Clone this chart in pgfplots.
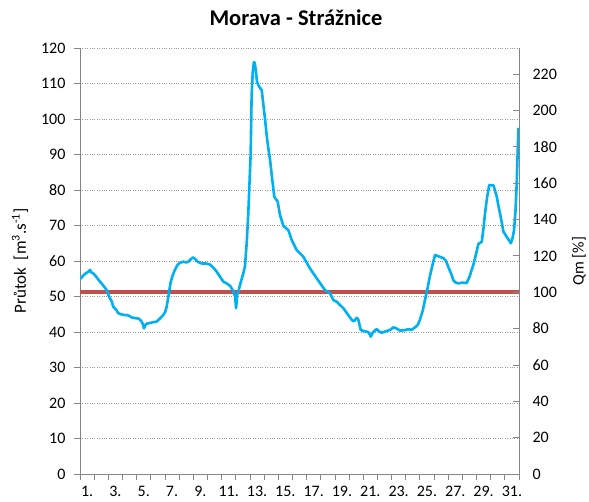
\documentclass[border=0pt]{standalone}
\usepackage{fontspec}
\setmainfont{Carlito}
\usepackage{pgfplots}
\pgfplotsset{compat=1.18}
\definecolor{qblue}{RGB}{0,176,240}
\definecolor{qred}{RGB}{192,80,77}
\definecolor{axgray}{RGB}{134,134,134}
\definecolor{gridgray}{RGB}{150,150,150}

\begin{document}
\begin{tikzpicture}[x=1pt,y=1pt]
\pgfplotsset{
  base/.style={
    scale only axis, width=439pt, height=426pt, at={(0,0)}, anchor=south west,
    xmin=0.5, xmax=31.5, clip=false,
    tick label style={font=\fontsize{16}{18}\selectfont, /pgf/number format/assume math mode=true},
    axis line style={axgray, line width=0.8pt},
    every tick/.style={axgray, line width=0.8pt},
    major tick length=6pt,
  }
}
\begin{axis}[base,
  axis x line*=bottom, axis y line*=left,
  tick align=outside,
  ymin=0, ymax=120, ytick={0,10,...,120},
  yticklabel style={xshift=-5pt},
  ymajorgrids, grid style={gridgray, dotted, line width=0.9pt},
  xtick={0.5,1.5,...,31.5}, xticklabels={},
  extra x ticks={1,3,...,31},
  extra x tick labels={1.,3.,5.,7.,9.,11.,13.,15.,17.,19.,21.,23.,25.,27.,29.,31.},
  extra x tick style={major tick length=0pt, xmajorgrids=false, ymajorgrids=false, tick label style={yshift=-9pt}},
]
\addplot[qred, line width=3.5pt] coordinates {(0.5,51.2) (31.5,51.2)};
\addplot[qblue, line width=2.6pt, line join=round] coordinates {
(0.55,55.0) (0.7,55.8) (0.9,56.5) (1.1,57.0) (1.21,57.5) (1.3,56.8) (1.44,56.5)
(1.6,55.8) (1.75,55.0) (1.91,54.2) (2.1,53.3) (2.25,52.5) (2.39,51.8) (2.55,50.0)
(2.74,48.6) (2.85,47.1) (3.05,46.3) (3.2,45.3) (3.4,45.0) (3.6,44.8) (3.8,44.8)
(4.0,44.5) (4.15,44.1) (4.4,43.9) (4.62,43.8) (4.75,43.4) (4.86,42.9) (4.95,42.0)
(5.02,41.0) (5.12,42.0) (5.25,42.4) (5.5,42.6) (5.7,42.8) (5.9,42.9) (6.15,43.8)
(6.38,44.8) (6.5,45.5) (6.62,47.1) (6.74,50.0) (6.9,54.0) (7.05,56.0) (7.2,57.5)
(7.4,59.0) (7.56,59.5) (7.8,59.8) (8.0,59.6) (8.15,59.8) (8.3,60.4) (8.46,61.0)
(8.6,60.7) (8.8,59.8) (9.1,59.3) (9.4,59.3) (9.68,59.0) (9.9,58.2) (10.15,57.0)
(10.4,55.5) (10.62,54.2) (10.85,53.7) (11.1,53.0) (11.25,52.0) (11.33,51.4)
(11.45,50.0) (11.52,46.7) (11.6,50.5) (11.68,51.4) (11.85,54.0) (12.03,56.5)
(12.15,58.5) (12.27,65.0) (12.38,73.0) (12.47,82.0) (12.55,89.9) (12.62,106.8)
(12.7,113.3) (12.78,116.0) (12.84,115.8) (12.92,113.5) (13.0,110.5) (13.09,109.6)
(13.2,108.8) (13.33,108.2) (13.42,105.0) (13.56,100.2) (13.68,95.5) (13.8,91.7)
(13.92,88.5) (14.08,82.8) (14.22,78.1) (14.46,76.7) (14.62,73.0) (14.86,69.9)
(15.21,68.7) (15.45,65.9) (15.8,63.1) (16.27,61.2) (16.74,57.9) (17.22,55.1)
(17.8,51.8) (18.16,50.9) (18.39,49.0) (18.63,48.5) (19.1,46.7) (19.4,45.0)
(19.69,43.4) (19.85,43.0) (20.04,44.0) (20.15,43.5) (20.32,40.6) (20.5,40.3)
(20.75,40.1) (20.9,39.8) (21.03,38.7) (21.2,40.0) (21.45,40.8) (21.6,40.2)
(21.8,39.8) (22.1,40.2) (22.4,40.6) (22.63,41.3) (22.85,41.0) (23.1,40.4)
(23.4,40.5) (23.69,40.8) (23.9,40.6) (24.16,41.3) (24.35,42.0) (24.5,43.4)
(24.7,46.0) (24.86,49.0) (25.05,52.5) (25.2,55.6) (25.4,59.0) (25.57,61.7)
(25.9,61.2) (26.16,60.8) (26.35,60.0) (26.5,58.4) (26.7,56.5) (26.86,54.6)
(27.0,54.0) (27.2,53.7) (27.5,53.9) (27.8,53.8) (28.0,55.5) (28.28,59.0)
(28.5,62.5) (28.63,64.8) (28.87,65.4) (29.0,69.5) (29.1,73.4) (29.25,78.0)
(29.4,81.4) (29.7,81.3) (29.93,78.1) (30.05,75.5) (30.16,73.4) (30.3,70.5)
(30.4,68.3) (30.63,66.8) (30.8,65.8) (30.92,65.0) (31.05,66.5) (31.15,68.7)
(31.25,74.0) (31.34,82.0) (31.4,90.0) (31.46,97.5)
};
\end{axis}
\begin{axis}[base,
  axis x line=none, axis y line*=right,
  tick align=inside,
  ymin=0, ymax=234.375, ytick={0,20,...,220},
  yticklabel style={xshift=10pt},
]
\end{axis}
\node[font=\fontsize{22.5}{25}\selectfont\bfseries] at (216,456) {Morava - Strážnice};
\node[rotate=90, font=\fontsize{17}{19}\selectfont] at (-60,213) {Průtok\ \ [m\textsuperscript{3}.s\textsuperscript{-1}]};
\node[rotate=90, font=\fontsize{16}{18}\selectfont] at (499,213) {Qm [\%]};
\pgfresetboundingbox
\path (-80,-27) rectangle (509,474);
\end{tikzpicture}
\end{document}
